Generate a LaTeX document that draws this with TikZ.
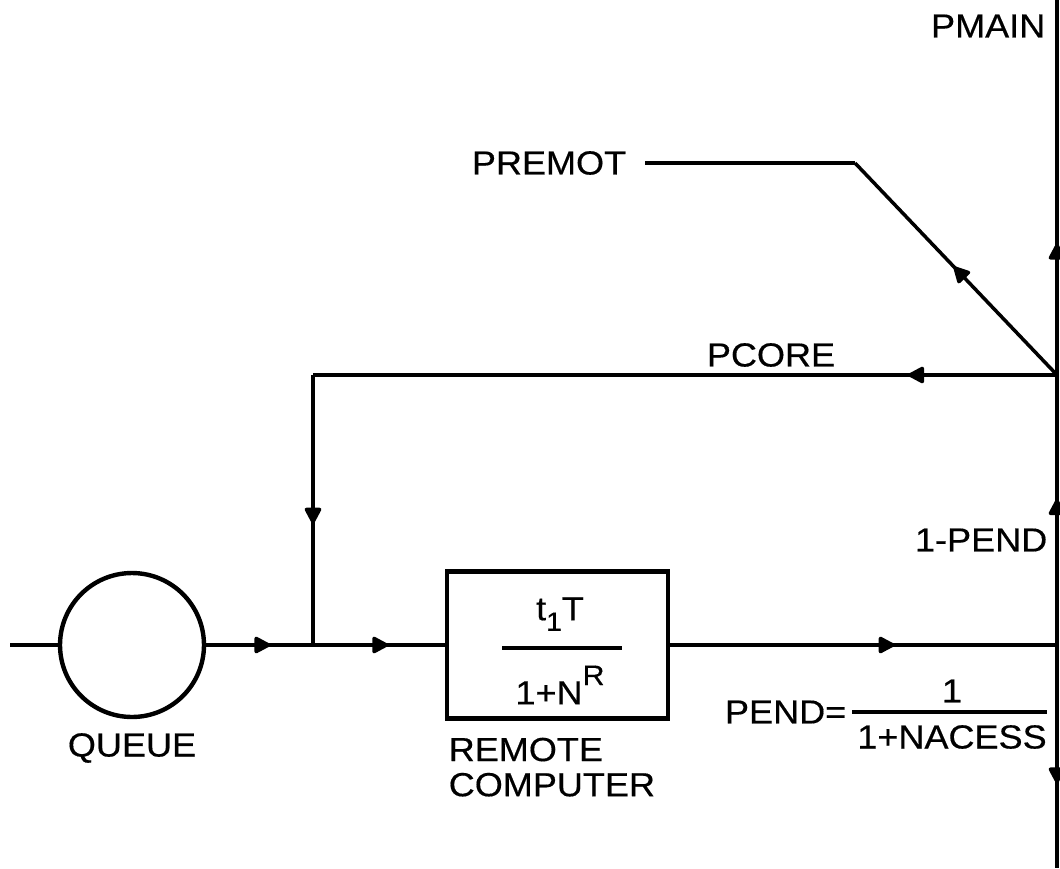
\documentclass[tikz,border=0pt]{standalone}
\usepackage{fontspec}
\setmainfont{Liberation Sans}[FakeStretch=1.08,FakeBold=0.4]
\usetikzlibrary{arrows.meta,decorations.markings,positioning}

\begin{document}
\begin{tikzpicture}[x=0.02cm,y=-0.02cm,line width=2pt,
  font=\fontsize{19}{20}\selectfont,
  tri/.tip={Triangle[length=0.36cm,width=0.36cm,round]},
  flow/.style={postaction={decorate,decoration={markings,
    mark=at position #1 with {\arrow{tri}}}}},
  lbl/.style={inner sep=0pt},
  blk/.style={draw,line width=2.5pt,minimum width=4.42cm,minimum height=2.94cm}]
\useasboundingbox (0,0) rectangle (1060,868);
% rail on the right
\coordinate (top) at (1057,0);
\coordinate (j) at (1057,375);
\coordinate (mainend) at (1057,645);
\coordinate (bot) at (1057,868);
\coordinate (in) at (10,645);
\coordinate (split) at (313,645);
\coordinate (corner) at (313,375);
\coordinate (pc) at (855,163);

\node[draw,circle,line width=2.5pt,minimum size=2.88cm] (queue) at (132,645) {};
\node[blk] (rc) at (557.5,645) {};
\node[lbl] (num) at (560,614) {t\raisebox{-6pt}{\fontsize{15}{15}\selectfont 1}T};
\node[lbl] (den) at (560,685) {1+N\raisebox{11pt}{\fontsize{16}{16}\selectfont R}};
\draw[line width=1.8pt] (502,648) -- (622,648);

% labels
\node[lbl,anchor=east] (pmain) at (1047,26) {PMAIN};
\node[lbl] (premot) at (549,163) {PREMOT};
\node[lbl] (pcore) at (771,355) {PCORE};
\node[lbl,anchor=east] (onepend) at (1049,540) {1-PEND};
\node[lbl] (qlbl) at (132,748) {QUEUE};
\node[lbl,anchor=north west,align=left] (rclbl) at (447,736) {REMOTE\\COMPUTER};
\node[lbl,anchor=east] (pend) at (848,712) {PEND=};
\node[lbl] (pnum) at (952,691) {1};
\node[lbl] (pden) at (952,737) {1+NACESS};
\draw[line width=1.8pt] (852,712) -- (1047,712);

% connectors
\draw (in) -- (queue);
\draw[flow=0.6] (queue) -- (split);
\draw[flow=0.57] (split) -- (rc);
\draw[flow=0.58] (rc) -- (mainend);
\draw[flow=0.2] (j) -- (corner);
\draw[flow=0.55] (corner) -- (split);
\draw[flow=0.51] (j) -- (pc);
\draw[shorten >=0.34cm] (pc) -- (premot);
\draw[flow=0.35] (j) -- (top);
\draw[flow=0.54] (mainend) -- (j);
\draw[flow=0.62] (mainend) -- (bot);
\end{tikzpicture}
\end{document}
